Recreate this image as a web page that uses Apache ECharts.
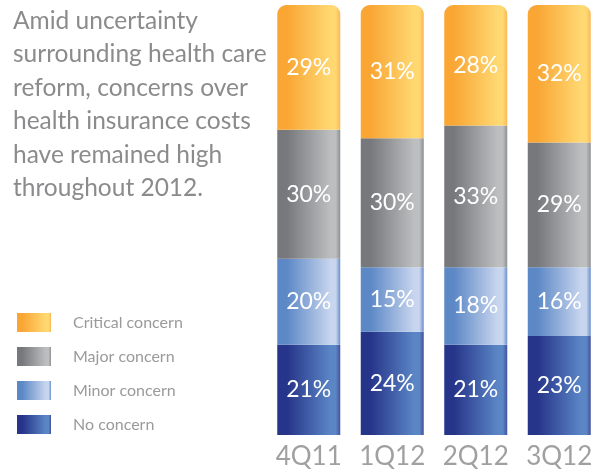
<!DOCTYPE html>
<html><head><meta charset="utf-8">
<script src="https://cdn.jsdelivr.net/npm/echarts@6/dist/echarts.min.js"></script>
<style>html,body{margin:0;padding:0;background:#fff}#c{width:601px;height:472px}</style>
</head><body><div id="c"></div>
<script>
const categories = ['4Q11', '1Q12', '2Q12', '3Q12'];
const noConcern = [21, 24, 21, 23];
const minorConcern = [20, 15, 18, 16];
const majorConcern = [30, 30, 33, 29];
const criticalConcern = [29, 31, 28, 32];
const seriesNames = ['No concern', 'Minor concern', 'Major concern', 'Critical concern'];
const titleText = 'Amid uncertainty\nsurrounding health care\nreform, concerns over\nhealth insurance costs\nhave remained high\nthroughout 2012.';

function grad(c0, c1, edge) {
  return new echarts.graphic.LinearGradient(0, 0, 1, 0, [
    {offset: 0, color: c0}, {offset: 0.15, color: c0},
    {offset: 0.85, color: c1}, {offset: 0.93, color: c1},
    {offset: 1, color: edge}
  ]);
}
const styles = [
  grad('#263489', '#5b86c6', '#44509a'),
  grad('#5c88c6', '#c8d5ee', '#6a8fcc'),
  grad('#77787b', '#bdbec0', '#8d8e91'),
  grad('#f9a634', '#ffd872', '#f9b857')
];
const dataArr = [noConcern, minorConcern, majorConcern, criticalConcern];

const chart = echarts.init(document.getElementById('c'));
chart.setOption({
  animation: false,
  title: {
    text: titleText, left: 8, top: -1,
    textStyle: {fontFamily: 'Lato', fontWeight: 'normal', fontSize: 24.5, lineHeight: 33.5, color: '#8b8b8d'}
  },
  legend: {
    data: seriesNames.slice().reverse(),
    orient: 'vertical', left: 12, top: 308,
    itemWidth: 34, itemHeight: 19, itemGap: 15,
    icon: 'rect',
    textStyle: {fontFamily: 'Lato', fontSize: 16, color: '#9a9a9a', padding: [0, 0, 0, 17]},
    selectedMode: false
  },
  grid: {left: 267, width: 344, top: 5, bottom: 37},
  xAxis: {
    type: 'category', data: categories,
    axisLine: {show: false}, axisTick: {show: false},
    axisLabel: {interval: 0, fontFamily: 'Lato', fontSize: 26, color: '#a0a0a0', margin: 9}
  },
  yAxis: {type: 'value', min: 0, max: 100, show: false},
  series: dataArr.map((d, i) => ({
    name: seriesNames[i], type: 'bar', stack: 'a', barWidth: 63,
    data: d,
    itemStyle: {color: styles[i], borderRadius: i === 3 ? [9, 9, 0, 0] : 0},
    label: {show: true, position: 'inside', formatter: '{c}%', color: '#fff',
      fontFamily: 'Lato', fontSize: 23}
  }))
});
</script></body></html>
